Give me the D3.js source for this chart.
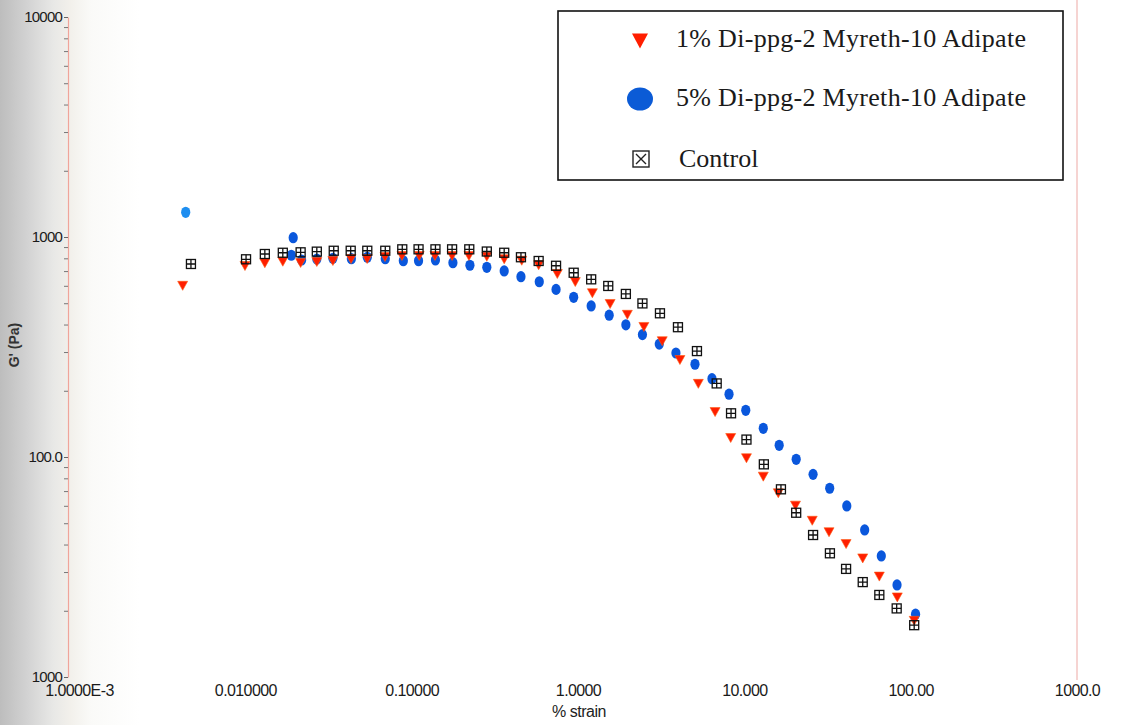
<!DOCTYPE html>
<html>
<head>
<meta charset="utf-8">
<script src="https://cdn.jsdelivr.net/npm/d3@7"></script>
<style>
  body { margin: 0; background: #fff; }
  svg { display: block; }
</style>
</head>
<body>
<div id="chart"></div>
<script>
// ===== SIZE =====
const width = 1121;
const height = 725;

// ===== DATA =====
const xTickValues = [0.001, 0.01, 0.1, 1, 10, 100, 1000];
const xTickLabels = ["1.0000E-3", "0.010000", "0.10000", "1.0000", "10.000", "100.00", "1000.0"];
const yTickValues = [10, 100, 1000, 10000];
const yTickLabels = ["1000", "100.0", "1000", "10000"];

const legendNames = ["1% Di-ppg-2 Myreth-10 Adipate", "5% Di-ppg-2 Myreth-10 Adipate", "Control"];

// 1% Di-ppg-2 Myreth-10 Adipate
const strain1 = [0.0042, 0.00995, 0.0131, 0.0168, 0.0215, 0.0269, 0.0336, 0.0432, 0.054, 0.0691,
  0.0874, 0.111, 0.138, 0.175, 0.221, 0.283, 0.36, 0.459, 0.58, 0.751,
  0.963, 1.22, 1.56, 1.98, 2.49, 3.21, 4.10, 5.29, 6.67, 8.28,
  10.3, 13.0, 16.0, 20.3, 25.6, 32.3, 40.9, 51.5, 64.8, 83.1, 105];
const g1 = [600, 738, 760, 772, 762, 770, 778, 794, 794, 811,
  820, 820, 820, 820, 820, 814, 792, 780, 744, 679,
  624, 555, 496, 443, 390, 336, 276, 215, 160, 122,
  98.7, 81.4, 68.4, 60.1, 51.3, 45.5, 40.2, 34.6, 28.6, 23.0, 18.0];

// 5% Di-ppg-2 Myreth-10 Adipate
const strain5 = [0.00438, 0.0189, 0.0194, 0.0218, 0.0269, 0.0336, 0.0434, 0.0541, 0.0694, 0.0891,
  0.110, 0.139, 0.177, 0.224, 0.283, 0.36, 0.454, 0.585, 0.738, 0.942,
  1.20, 1.54, 1.94, 2.44, 3.08, 3.88, 5.05, 6.39, 8.09, 10.2,
  13.0, 16.2, 20.5, 25.9, 32.6, 41.3, 52.9, 66.6, 82.8, 107];
const g5 = [1295, 826, 993, 786, 794, 800, 797, 809, 797, 780,
  780, 786, 764, 744, 728, 701, 660, 626, 578, 532,
  486, 441, 399, 360, 326, 297, 264, 227, 193, 163,
  135, 113, 97.6, 83.4, 72.1, 59.9, 46.6, 35.5, 26.2, 19.3];

// Control
const strainC = [0.00471, 0.0101, 0.0131, 0.0168, 0.0215, 0.0269, 0.034, 0.043, 0.0541, 0.0694,
  0.0878, 0.110, 0.139, 0.175, 0.222, 0.283, 0.36, 0.454, 0.58, 0.738,
  0.942, 1.20, 1.52, 1.94, 2.44, 3.11, 3.99, 5.19, 6.82, 8.32,
  10.3, 13.1, 16.6, 20.5, 25.9, 32.7, 40.9, 51.5, 64.8, 82.4, 105];
const gC = [754, 792, 837, 848, 852, 858, 866, 866, 866, 866,
  879, 879, 879, 879, 879, 859, 848, 809, 778, 740,
  688, 642, 599, 551, 499, 450, 389, 303, 216, 158,
  120, 92.6, 71.3, 55.8, 44.2, 36.5, 31.0, 27.0, 23.6, 20.5, 17.2];

// ===== SVG =====
const svg = d3.select("#chart")
  .append("svg")
  .attr("width", width)
  .attr("height", height);

// scanned-page shading on the left edge
const defs = svg.append("defs");
const grad = defs.append("linearGradient").attr("id", "edge");
[[0, "#bdbdbd"], [0.2, "#d3d3d3"], [0.38, "#e8e8e6"], [0.5, "#f2f0eb"], [0.65, "#fafaf8"], [1, "#ffffff"]]
  .forEach(s => grad.append("stop").attr("offset", s[0]).attr("stop-color", s[1]));

svg.append("rect").attr("width", width).attr("height", height).attr("fill", "#fff");
svg.append("rect").attr("width", 140).attr("height", height).attr("fill", "url(#edge)");

// ===== SCALES =====
const x = d3.scaleLog().domain([1e-3, 1e3]).range([79, 1077]);
const y = d3.scaleLog().domain([10, 1e4]).range([677, 17]);
const axisX = 68;

// right frame line
svg.append("line")
  .attr("x1", x(1000)).attr("x2", x(1000))
  .attr("y1", 0).attr("y2", 680)
  .attr("stroke", "#f0b8b4")
  .attr("stroke-width", 1.2);

// ===== Y AXIS =====
const minorY = [];
[10, 100, 1000].forEach(dec => { for (let k = 2; k <= 9; k++) minorY.push(k * dec); });

const yAxis = svg.append("g")
  .attr("transform", `translate(${axisX},0)`)
  .call(d3.axisLeft(y)
    .tickValues(yTickValues)
    .tickFormat((d, i) => yTickLabels[i])
    .tickSize(4)
    .tickSizeOuter(0)
    .tickPadding(2));
yAxis.select(".domain").attr("stroke", "#f0a49a").attr("stroke-width", 1.2);
yAxis.selectAll(".tick line").attr("stroke", "#666");
yAxis.selectAll(".tick text")
  .style("font-family", "'Liberation Sans', Arial, sans-serif")
  .style("font-size", "15px")
  .style("letter-spacing", "-0.8px")
  .attr("fill", "#1a1a1a");

const yMinor = svg.append("g")
  .attr("transform", `translate(${axisX},0)`)
  .call(d3.axisLeft(y).tickValues(minorY).tickFormat("").tickSize(4));
yMinor.select(".domain").remove();
yMinor.selectAll(".tick line").attr("stroke", "#777");

// ===== X AXIS =====
const xAxis = svg.append("g")
  .attr("transform", "translate(0,681)")
  .call(d3.axisBottom(x)
    .tickValues(xTickValues)
    .tickFormat((d, i) => xTickLabels[i])
    .tickSize(0)
    .tickPadding(4));
xAxis.select(".domain").remove();
xAxis.selectAll(".tick text")
  .style("font-family", "'Liberation Sans', Arial, sans-serif")
  .style("font-size", "16px")
  .style("letter-spacing", "-0.6px")
  .attr("fill", "#1a1a1a");

// axis titles
svg.append("text")
  .attr("x", 579)
  .attr("y", 717)
  .attr("text-anchor", "middle")
  .style("font-family", "'Liberation Sans', Arial, sans-serif")
  .style("font-size", "16px")
  .style("letter-spacing", "-0.5px")
  .attr("fill", "#222")
  .text("% strain");

svg.append("text")
  .attr("transform", "translate(19,345) rotate(-90)")
  .attr("text-anchor", "middle")
  .style("font-family", "'Liberation Sans', Arial, sans-serif")
  .style("font-size", "14px")
  .style("font-weight", "bold")
  .attr("fill", "#333")
  .text("G' (Pa)");

// ===== MARKERS =====
const triDown = (w, h) => `M${-w / 2},${-h / 2}L${w / 2},${-h / 2}L0,${h / 2}Z`;

const pts5 = strain5.map((s, i) => ({ s, g: g5[i], i }));
const pts1 = strain1.map((s, i) => ({ s, g: g1[i], i }));
const ptsC = strainC.map((s, i) => ({ s, g: gC[i], i }));

svg.append("g").selectAll("ellipse")
  .data(pts5)
  .join("ellipse")
  .attr("cx", d => x(d.s))
  .attr("cy", d => y(d.g))
  .attr("rx", 4.6)
  .attr("ry", 5.6)
  .attr("fill", d => d.i === 0 ? "#1e8ef0" : "#0a57dc");

svg.append("g").selectAll("path")
  .data(pts1)
  .join("path")
  .attr("transform", d => `translate(${x(d.s)},${y(d.g)})`)
  .attr("d", triDown(10, 9))
  .attr("fill", "#ff1e00")
  .attr("stroke", "#ff5a10")
  .attr("stroke-width", 0.6);

const ctl = svg.append("g").selectAll("g")
  .data(ptsC)
  .join("g")
  .attr("transform", d => `translate(${x(d.s)},${y(d.g)})`)
  .attr("stroke", "#111")
  .attr("stroke-width", 1.3)
  .attr("fill", "none");
ctl.append("rect").attr("x", -4.5).attr("y", -4.5).attr("width", 9).attr("height", 9);
ctl.append("path").attr("d", "M0,-4.5V4.5M-4.5,0H4.5");

// ===== LEGEND =====
const legend = svg.append("g");
legend.append("rect")
  .attr("x", 558).attr("y", 11)
  .attr("width", 505).attr("height", 169)
  .attr("fill", "#fff")
  .attr("stroke", "#111")
  .attr("stroke-width", 1.6);

const legendY = [47, 106, 167];

legend.append("path")
  .attr("transform", "translate(640,41)")
  .attr("d", triDown(16, 15))
  .attr("fill", "#ff1e00");

legend.append("ellipse")
  .attr("cx", 640).attr("cy", 99)
  .attr("rx", 13).attr("ry", 11.5)
  .attr("fill", "#0b5bd6");

const lc = legend.append("g")
  .attr("transform", "translate(641,159)")
  .attr("stroke", "#222")
  .attr("stroke-width", 1.4)
  .attr("fill", "none");
lc.append("rect").attr("x", -8).attr("y", -8).attr("width", 16).attr("height", 16);
lc.append("path").attr("d", "M-5,-5L5,5M5,-5L-5,5");

legend.selectAll("text.lg")
  .data(legendNames)
  .join("text")
  .attr("class", "lg")
  .attr("x", (d, i) => i === 2 ? 679 : 676)
  .attr("y", (d, i) => legendY[i])
  .attr("textLength", (d, i) => i === 2 ? null : 350)
  .attr("lengthAdjust", "spacing")
  .style("font-family", "'Liberation Serif', 'Times New Roman', serif")
  .style("font-size", "26px")
  .attr("fill", "#1a1a1a")
  .text(d => d);
</script>
</body>
</html>
